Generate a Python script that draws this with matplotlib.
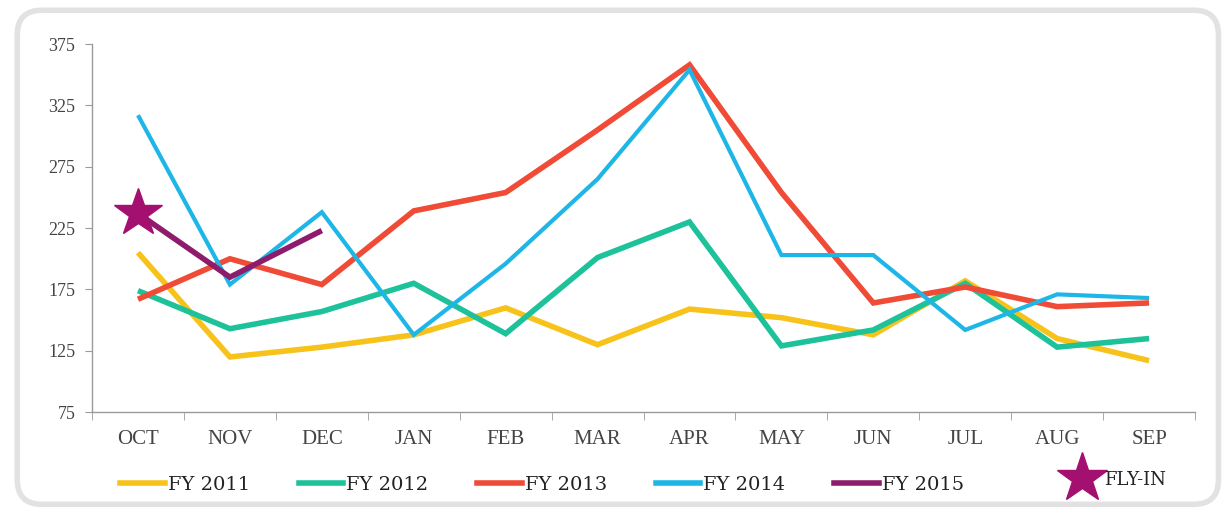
import numpy as np
import matplotlib
matplotlib.use('Agg')
import matplotlib.pyplot as plt
from matplotlib.patches import FancyBboxPatch
from matplotlib.lines import Line2D

months = ['OCT', 'NOV', 'DEC', 'JAN', 'FEB', 'MAR', 'APR', 'MAY', 'JUN', 'JUL', 'AUG', 'SEP']

fy2011 = [205, 120, 128, 138, 160, 130, 159, 152, 138, 182, 135, 117]
fy2012 = [174, 143, 157, 180, 139, 201, 230, 129, 142, 180, 128, 135]
fy2013 = [167, 200, 179, 239, 254, 305, 358, 254, 164, 177, 161, 164]
fy2014 = [317, 179, 238, 138, 196, 265, 354, 203, 203, 142, 171, 168]
fy2015 = [237, 185, 223]

fly_in_month = 0
fly_in_value = 237

series = [
    ('FY 2011', fy2011, '#F7C31B'),
    ('FY 2012', fy2012, '#1DC29B'),
    ('FY 2013', fy2013, '#F04B36'),
    ('FY 2014', fy2014, '#1DB6E6'),
    ('FY 2015', fy2015, '#8E1C6C'),
]

plt.rcParams['font.family'] = ['Liberation Serif', 'DejaVu Serif']

fig = plt.figure(figsize=(12.32, 5.12), dpi=100)

# rounded frame around the whole chart
frame = FancyBboxPatch((0.014, 0.015), 0.975, 0.965, boxstyle='round,pad=0,rounding_size=0.02',
                       transform=fig.transFigure, facecolor='white', edgecolor='#e2e2e2',
                       linewidth=4, zorder=0, mutation_aspect=2.4)
fig.patches.append(frame)

ax = fig.add_axes([0.0747, 0.195, 0.8953, 0.719])
ax.set_zorder(2)
ax.patch.set_alpha(0)

x = np.arange(len(months))
for name, vals, color in series:
    lw = 3 if name == 'FY 2014' else 4
    ax.plot(x[:len(vals)], vals, color=color, linewidth=lw, solid_capstyle='butt', solid_joinstyle='miter')

ax.plot([fly_in_month], [fly_in_value], marker='*', markersize=36, color='#A3106F',
        markeredgecolor='#A3106F', zorder=5)

ax.set_xlim(-0.5, len(months) - 0.5)
ax.set_ylim(75, 375)
ax.set_yticks(np.arange(75, 376, 50))
ax.set_xticks(x)
ax.set_xticklabels(months)
ax.set_xticks(np.arange(-0.5, len(months)), minor=True)

for s in ['top', 'right']:
    ax.spines[s].set_visible(False)
for s in ['left', 'bottom']:
    ax.spines[s].set_color('#9a9a9a')
    ax.spines[s].set_linewidth(1)

ax.tick_params(axis='x', which='major', length=0, pad=13, labelsize=15, labelcolor='#444444')
ax.tick_params(axis='x', which='minor', length=6, color='#9a9a9a', direction='out')
ax.tick_params(axis='y', length=5, color='#9a9a9a', pad=7, labelsize=13, labelcolor='#444444')

handles = [Line2D([0], [0], color=c, linewidth=4) for _, _, c in series]
leg = fig.legend(handles, [n for n, _, _ in series], loc='center', bbox_to_anchor=(0.44, 0.053),
                 ncol=5, frameon=False, handlelength=2.3, handletextpad=0.15, columnspacing=2.5,
                 prop={'family': 'DejaVu Serif', 'size': 14}, labelcolor='#222222')
leg.set_zorder(3)

star = Line2D([0], [0], marker='*', color='none', markerfacecolor='#A3106F',
              markeredgecolor='#A3106F', markersize=38)
leg2 = fig.legend([star], ['FLY-IN'], loc='center', bbox_to_anchor=(0.906, 0.063), frameon=False,
                  handlelength=1.7, handletextpad=0.4,
                  prop={'family': 'DejaVu Serif', 'size': 13}, labelcolor='#222222')
leg2.set_zorder(3)

fig.savefig('out.png', dpi=100)
